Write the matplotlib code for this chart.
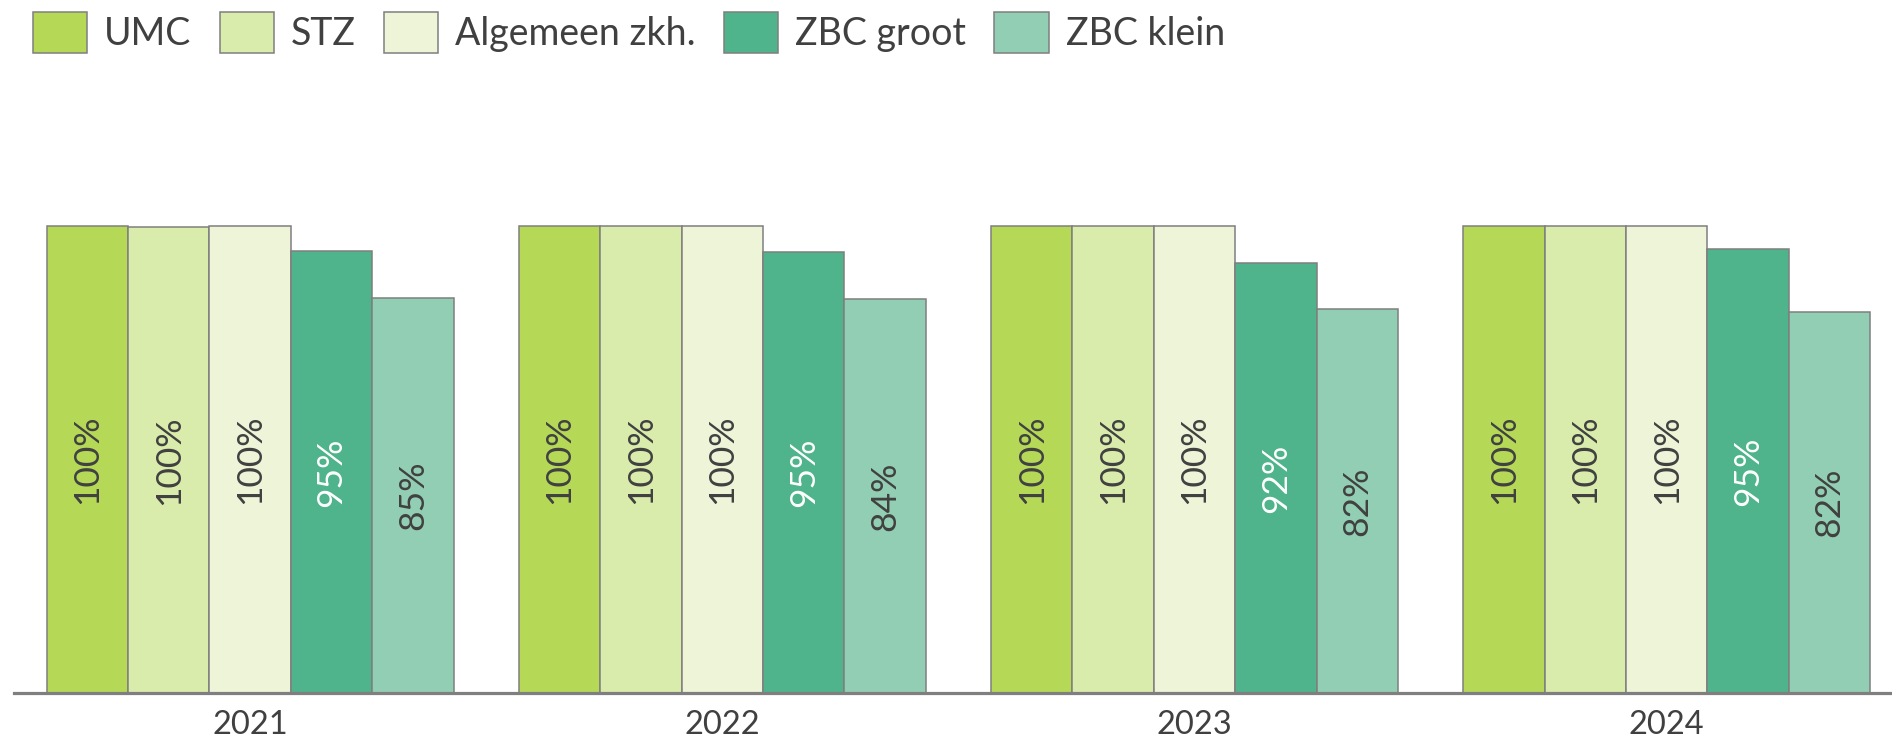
import matplotlib
matplotlib.use("Agg")
import matplotlib.pyplot as plt
import numpy as np

plt.rcParams['font.family'] = ['Lato', 'DejaVu Sans']

# data
years = ['2021', '2022', '2023', '2024']
series = ['UMC', 'STZ', 'Algemeen zkh.', 'ZBC groot', 'ZBC klein']
umc = [100, 100, 100, 100]
stz = [99.9, 100, 100, 100]
algemeen = [100, 100, 100, 100]
zbc_groot = [94.7, 94.6, 92.1, 95.1]
zbc_klein = [84.6, 84.4, 82.3, 81.6]

colors = ['#B5D957', '#D9ECAB', '#EDF4D8', '#4FB38B', '#92CEB3']
label_colors = ['#404040', '#404040', '#404040', '#FFFFFF', '#404040']

W, H = 1892, 738
fig = plt.figure(figsize=(W / 100, H / 100), dpi=100)
ax = fig.add_axes([14 / W, 45 / H, 1 - 14 / W, 466.6 * 1.1 / H])

x = np.arange(len(years))
bw = 0.1724
for i, (name, vals) in enumerate(zip(series, [umc, stz, algemeen, zbc_groot, zbc_klein])):
    bars = ax.bar(x + (i - 2) * bw, vals, width=bw, color=colors[i],
                  edgecolor='#7f7f7f', linewidth=1.1, label=name, zorder=2)
    ax.bar_label(bars, fmt='%.0f%%', label_type='center', rotation=90,
                 fontsize=25.5, color=label_colors[i])

ax.set_xlim(-0.5, -0.5 + 1878 / 472.2)
ax.set_ylim(0, 110)
ax.set_yticks([])
ax.set_xticks(x)
ax.set_xticklabels(years, fontsize=23.5, color='#404040')
ax.tick_params(axis='x', length=0, pad=12.5)
for s in ['top', 'right', 'left']:
    ax.spines[s].set_visible(False)
ax.spines['bottom'].set_color('#7f7f7f')
ax.spines['bottom'].set_linewidth(2.3)
ax.spines['bottom'].set_zorder(3)

fig.legend(loc='upper left', bbox_to_anchor=(33 / W, 1 - 12 / H), ncol=5,
           frameon=False, fontsize=27, handlelength=1.45, handleheight=1.3,
           handletextpad=0.45, columnspacing=0.75, borderpad=0, borderaxespad=0,
           labelcolor='#404040')

fig.savefig('out.png', dpi=100)
